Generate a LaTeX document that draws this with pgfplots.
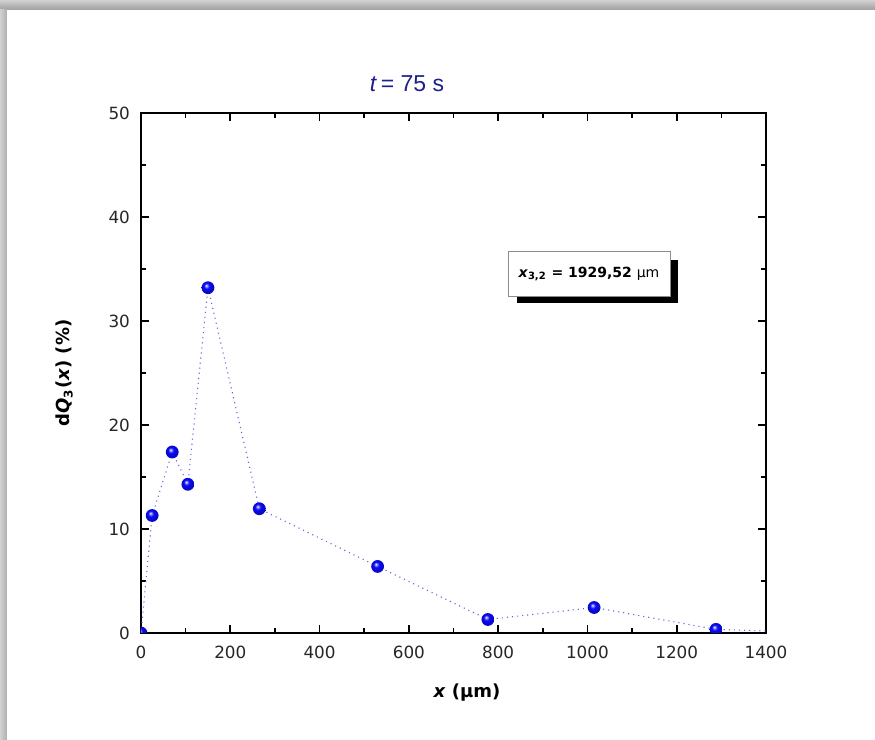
\documentclass[border=0pt]{standalone}
\usepackage{fontspec}
\setmainfont{DejaVu Sans}
\newfontfamily\arialfont{Liberation Sans}
\usepackage{pgfplots}
\pgfplotsset{compat=1.18}
\definecolor{titleblue}{RGB}{30,30,140}
\definecolor{linecol}{RGB}{100,100,225}
\definecolor{ballblue}{RGB}{10,10,245}
\pgfdeclareradialshading{sphere}{\pgfqpoint{-7bp}{9bp}}{color(0bp)=(white); color(3bp)=(ballblue!35!white); color(11bp)=(ballblue); color(25bp)=(ballblue!80!black); color(50bp)=(ballblue!60!black)}
\pgfdeclareplotmark{sphere}{%
  \pgfpathcircle{\pgfpointorigin}{\pgfplotmarksize}%
  \pgfshadepath{sphere}{0}%
  \pgfusepath{discard}}
\begin{document}
\begin{tikzpicture}
% page background and frame shadow
\fill[white] (-70.5pt,-53.5pt) rectangle (367pt,316.5pt);
\shade[top color=black!18, bottom color=black!38] (-70.5pt,311.5pt) rectangle (367pt,316.5pt);
\shade[left color=black!18, right color=black!32] (-70.5pt,-53.5pt) rectangle (-67pt,311.5pt);
\begin{axis}[
  at={(0,0)}, anchor=south west,
  scale only axis, width=312.5pt, height=260pt,
  xmin=0, xmax=1400, ymin=0, ymax=50,
  xtick={0,200,...,1400}, ytick={0,10,...,50},
  minor x tick num=1, minor y tick num=1,
  tick align=inside,
  major tick length=4pt, minor tick length=2.5pt,
  axis line style={line width=1pt},
  every tick/.style={black, line width=0.8pt},
  tick label style={font=\fontsize{8.4}{10}\selectfont, text=black!85},
  xticklabel style={yshift=-3pt},
  yticklabel style={xshift=-2pt},
  /pgf/number format/assume math mode=true,
  /pgf/number format/1000 sep={},
  clip marker paths=true,
]
\addplot[linecol, dotted, line width=0.55pt, mark=none] coordinates {
  (0,0) (25,11.3) (70,17.4) (105,14.3) (150,33.2) (265,11.95) (530,6.4) (777,1.3) (1015,2.45) (1288,0.35) (1400,0.2)
};
\addplot[only marks, mark=sphere, mark size=3.2pt] coordinates {
  (0,0) (25,11.3) (70,17.4) (105,14.3) (150,33.2) (265,11.95) (530,6.4) (777,1.3) (1015,2.45) (1288,0.35)
};
\end{axis}
% axis labels
\node[anchor=base, font=\bfseries\fontsize{9}{11}\selectfont] at (163pt,-32.5pt) {\textit{x} (μm)};
\node[rotate=90, anchor=base, font=\bfseries\fontsize{9}{11}\selectfont] at (-35.5pt,130pt) {d\textit{Q}\textsubscript{3}(\textit{x}) (\%)};
% title
\node[anchor=base, font=\arialfont\fontsize{11.5}{13}\selectfont, text=titleblue] at (133pt,270.5pt) {\textit{t}\,= 75 s};
% annotation box
\fill[black] (188pt,165pt) rectangle (268.5pt,186.5pt);
\draw[black!45, fill=white, line width=0.5pt] (183.5pt,168pt) rectangle (264.5pt,190.5pt);
\node[font=\bfseries\fontsize{7}{8}\selectfont] at (224pt,179.5pt) {\textit{x}\textsubscript{3,2} = 1929,52 {\mdseries μm}};
\end{tikzpicture}
\end{document}
